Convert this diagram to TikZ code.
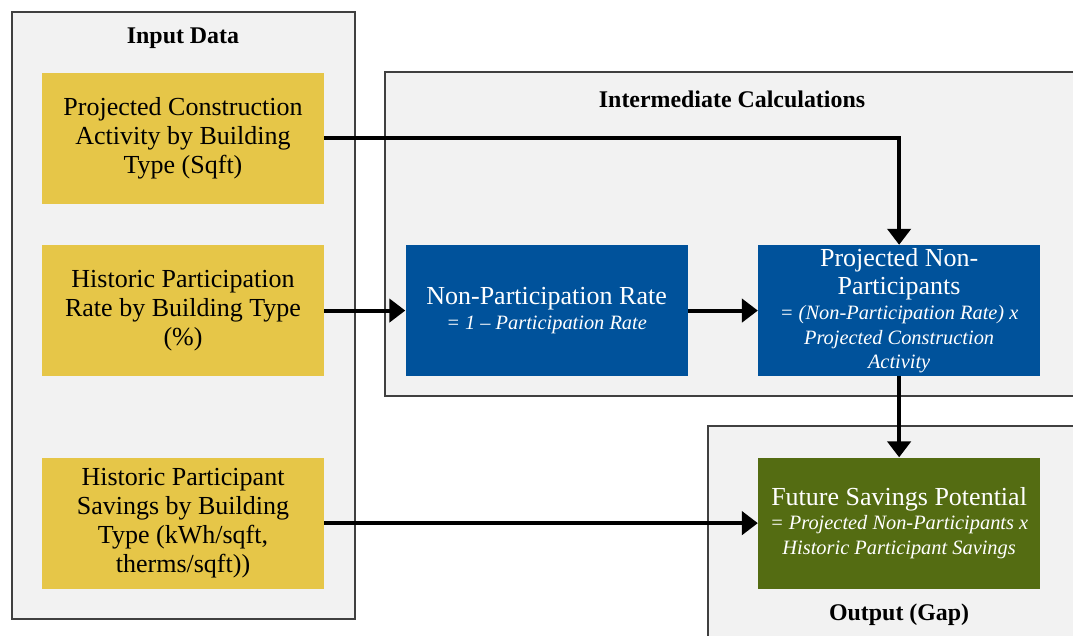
\documentclass[tikz,border=0pt]{standalone}
\usepackage{fontspec}
\setmainfont{Liberation Serif}
\usetikzlibrary{positioning, arrows.meta, backgrounds}

\definecolor{inputyellow}{RGB}{230,198,72}
\definecolor{calcblue}{RGB}{0,82,155}
\definecolor{outgreen}{RGB}{84,108,18}
\definecolor{panelgray}{RGB}{242,242,242}

\newcommand{\formula}[1]{{\fontsize{14.5}{17}\selectfont\itshape #1}}

\begin{document}
\begin{tikzpicture}[
    box/.style={minimum width=7.05cm, minimum height=3.275cm, inner sep=0pt,
      align=center, font=\fontsize{18.5}{20.5}\selectfont},
    inputbox/.style={box, fill=inputyellow, text=black},
    calcbox/.style={box, fill=calcblue, text=white},
    outbox/.style={box, fill=outgreen, text=white},
    panel/.style={fill=panelgray, draw=black!75, line width=0.9pt},
    title/.style={inner sep=0pt, font=\fontsize{17}{19}\selectfont\bfseries},
    flow/.style={line width=2.8pt, -{Triangle[length=0.4cm,width=0.58cm]}},
  ]
  \useasboundingbox (0,0) rectangle (26.825,-15.875);
  \clip (0,0) rectangle (26.825,-15.875);
      % input data
      \node[inputbox] (i1) at (4.575,-3.45) {Projected Construction\\Activity by Building\\Type (Sqft)};
      \node[inputbox, below=1.025cm of i1] (i2) {Historic Participation\\Rate by Building Type\\(\%)};
      \node[inputbox, below=2.025cm of i2] (i3) {Historic Participant\\Savings by Building\\Type (kWh/sqft,\\therms/sqft))};
      \node[title, above=0.58cm of i1] (t1) {Input Data};
      % intermediate calculations
      \node[calcbox, right=2.025cm of i2] (c1) {Non-Participation Rate\\[-3pt]\formula{= 1 -- Participation Rate}};
      \node[calcbox, right=1.75cm of c1] (c2) {Projected Non-\\Participants\\[-3pt]\formula{= (Non-Participation Rate) x}\\[-3pt]\formula{Projected Construction}\\[-3pt]\formula{Activity}};
      \node[title] (t2) at (18.3,-2.475) {Intermediate Calculations};
      % output
      \node[outbox, below=2.025cm of c2] (o1) {Future Savings Potential\\[-3pt]\formula{= Projected Non-Participants x}\\[-3pt]\formula{Historic Participant Savings}};
      \node[title, below=0.36cm of o1] (t3) {Output (Gap)};
      \begin{scope}[on background layer]
        \draw[panel] (0.3,-0.3) rectangle (8.875,-15.475);
        \draw[panel] (9.625,-1.8) rectangle (27.5,-9.9);
        \draw[panel] (17.7,-10.65) rectangle (27.5,-16.5);
      \end{scope}
      \draw[flow] (i1.east) -| (c2.north);
      \draw[flow] (i2) -- (c1);
      \draw[flow] (c1) -- (c2);
      \draw[flow] (c2) -- (o1);
      \draw[flow] (i3) -- (o1);
\end{tikzpicture}
\end{document}
